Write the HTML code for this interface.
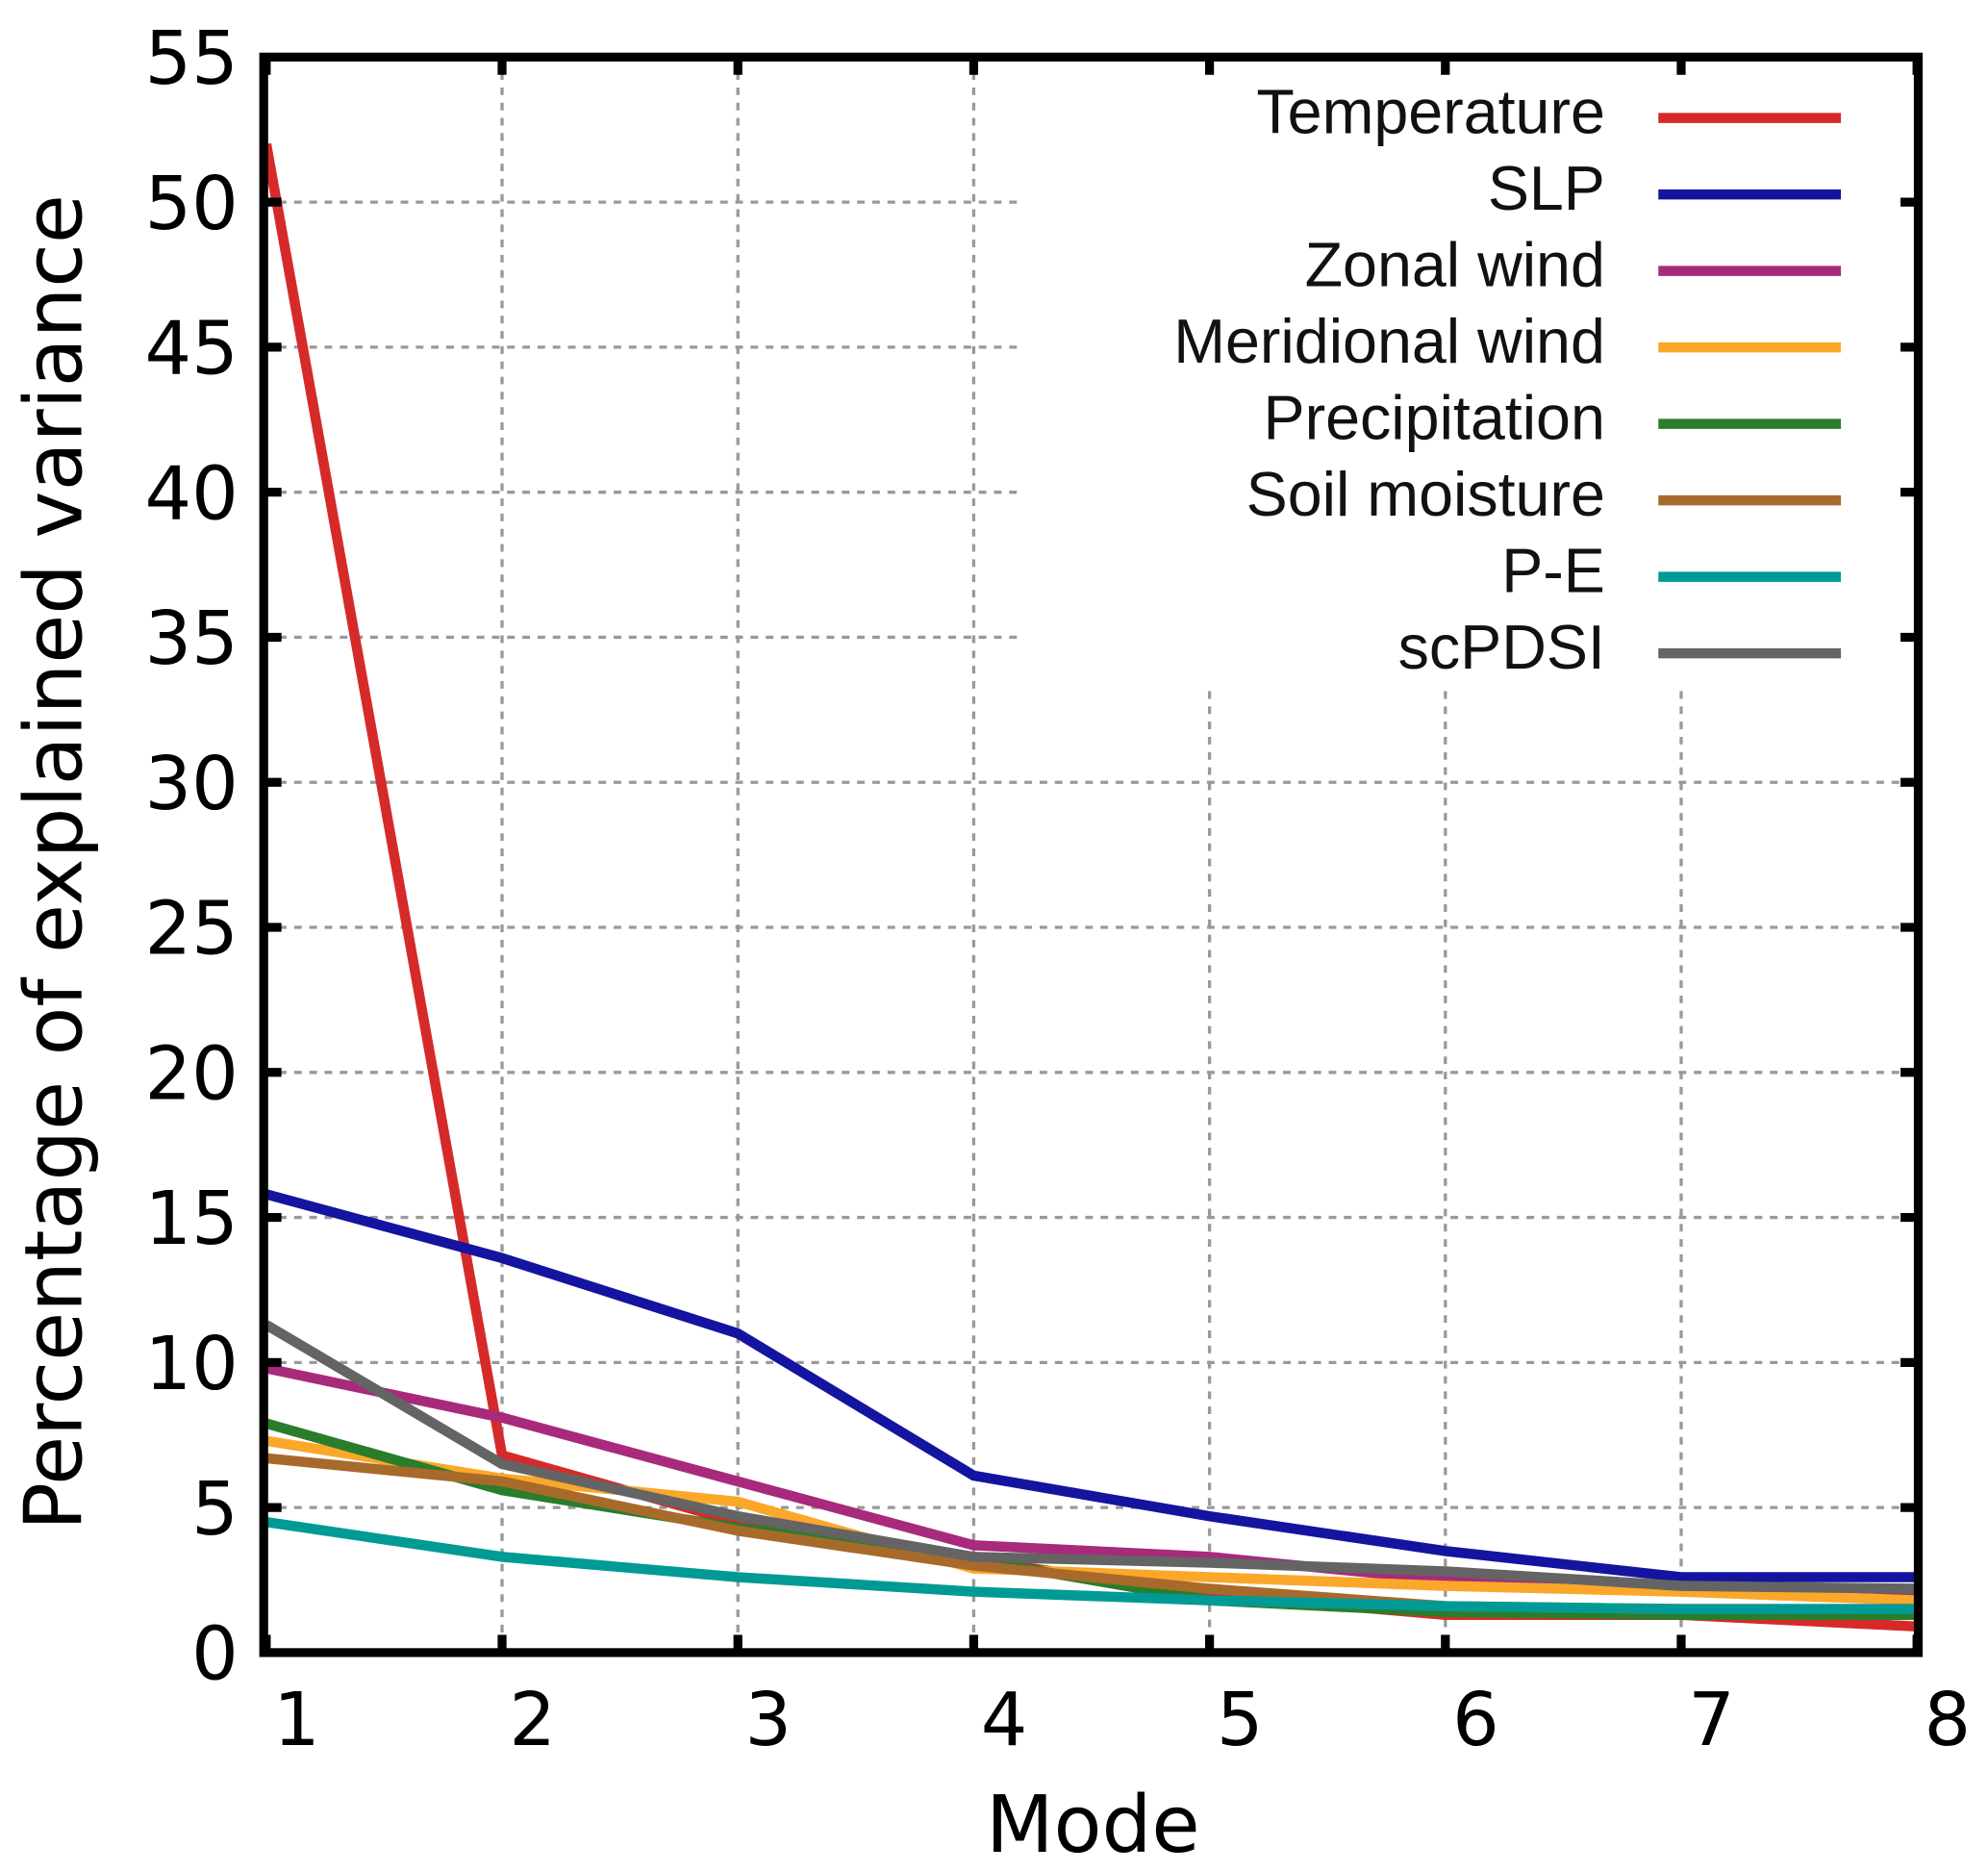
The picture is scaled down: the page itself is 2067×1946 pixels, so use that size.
<!DOCTYPE html>
<html><head><meta charset="utf-8"><style>html,body{margin:0;padding:0;background:#fff}svg{display:block}</style></head>
<body>
<svg id="chart" width="2067" height="1946" viewBox="0 0 1568 1476" preserveAspectRatio="none" xmlns="http://www.w3.org/2000/svg">
<g id="grid"></g>
<g id="series"></g>
<g id="legend"></g>
<rect x="208" y="45" width="1305" height="1258" fill="none" stroke="#000" stroke-width="7"/>
<g id="ticks"></g>
<text x="862" y="1460" font-family="DejaVu Sans, sans-serif" font-size="62" text-anchor="middle">Mode</text>
<text transform="translate(64,680) rotate(-90)" font-family="DejaVu Sans, sans-serif" font-size="63" text-anchor="middle">Percentage of explained variance</text>
</svg>
<script>
const modes=[1,2,3,4,5,6,7,8];
const yTicks=[0,5,10,15,20,25,30,35,40,45,50,55];
const seriesNames=["Temperature","SLP","Zonal wind","Meridional wind","Precipitation","Soil moisture","P-E","scPDSI"];
const temperature=[52,6.8,4.5,3.2,2.0,1.3,1.3,0.9];
const slp=[15.8,13.6,11.0,6.1,4.7,3.5,2.6,2.6];
const zonalWind=[9.8,8.1,5.9,3.7,3.3,2.5,2.3,2.0];
const meridionalWind=[7.3,6.0,5.2,2.9,2.6,2.3,2.1,1.8];
const precipitation=[7.9,5.6,4.3,3.2,1.8,1.4,1.3,1.3];
const soilMoisture=[6.7,5.9,4.2,3.0,2.2,1.6,1.5,1.5];
const pe=[4.5,3.3,2.6,2.1,1.8,1.6,1.5,1.5];
const scpdsi=[11.3,6.5,4.7,3.3,3.1,2.8,2.3,2.2];
const colors=["#d62a2a","#1414a0","#a82a7c","#fba72a","#2a7d2a","#a86a2a","#009a96","#646464"];
const allSeries=[temperature,slp,zonalWind,meridionalWind,precipitation,soilMoisture,pe,scpdsi];
const X0=210,X1=1512,Y0=1303,Y1=45;
const xs=m=>X0+(m-1)*(X1-X0)/7;
const ys=v=>Y0-v*(Y0-Y1)/55;
const NS="http://www.w3.org/2000/svg";
function mk(t,a,p){const e=document.createElementNS(NS,t);for(const k in a)e.setAttribute(k,a[k]);p.appendChild(e);return e;}
const grid=document.getElementById('grid'),ticks=document.getElementById('ticks'),ser=document.getElementById('series'),leg=document.getElementById('legend');
yTicks.forEach(v=>{
  const y=ys(v);
  if(v>0&&v<55){
    const xe=v>=35?805:1513;
    const g=mk('line',{x1:208,x2:xe,y1:y,y2:y,stroke:'#999','stroke-width':2.5,'stroke-dasharray':'6,6'},grid);
    
    
    const t1=mk('line',{x1:208,x2:222,y1:y,y2:y,stroke:'#000','stroke-width':7},ticks);
    
    
    const t2=mk('line',{x1:1499,x2:1513,y1:y,y2:y,stroke:'#000','stroke-width':7},ticks);
    
    
  }
  const l=mk('text',{x:188,y:y+21,'font-family':'DejaVu Sans, sans-serif','font-size':58,'text-anchor':'end'},ticks);
  l.textContent=v;
  
  
});
modes.forEach(m=>{
  const x=xs(m);
  if(m>1&&m<8){
    const ytop=m>=5?545:45;
    const g=mk('line',{x1:x,x2:x,y1:ytop,y2:1303,stroke:'#999','stroke-width':2.5,'stroke-dasharray':'6,6'},grid);
    
    
  }
  const t1=mk('line',{x1:x,x2:x,y1:1289,y2:1303,stroke:'#000','stroke-width':7},ticks);
  
  
  const t2=mk('line',{x1:x,x2:x,y1:45,y2:59,stroke:'#000','stroke-width':7},ticks);
  
  
  const l=mk('text',{x:x+24,y:1376,'font-family':'DejaVu Sans, sans-serif','font-size':58,'text-anchor':'middle'},ticks);
  l.textContent=m;
  
  
});
allSeries.forEach((d,i)=>{
  const pts=d.map((v,j)=>xs(modes[j])+','+ys(v)).join(' ');
  const p=mk('polyline',{points:pts,fill:'none',stroke:colors[i],'stroke-width':8,'stroke-linejoin':'miter'},ser);
  
  
  const y=89+i*60.3;
  const t=mk('text',{x:1266,y:y+16,'font-family':'Liberation Sans, sans-serif','font-size':49,'text-anchor':'end',fill:'#111'},leg);
  t.textContent=seriesNames[i];
  
  
  const s=mk('line',{x1:1308,x2:1452,y1:y+4,y2:y+4,stroke:colors[i],'stroke-width':8},leg);
  
  
});
</script>
</body></html>
